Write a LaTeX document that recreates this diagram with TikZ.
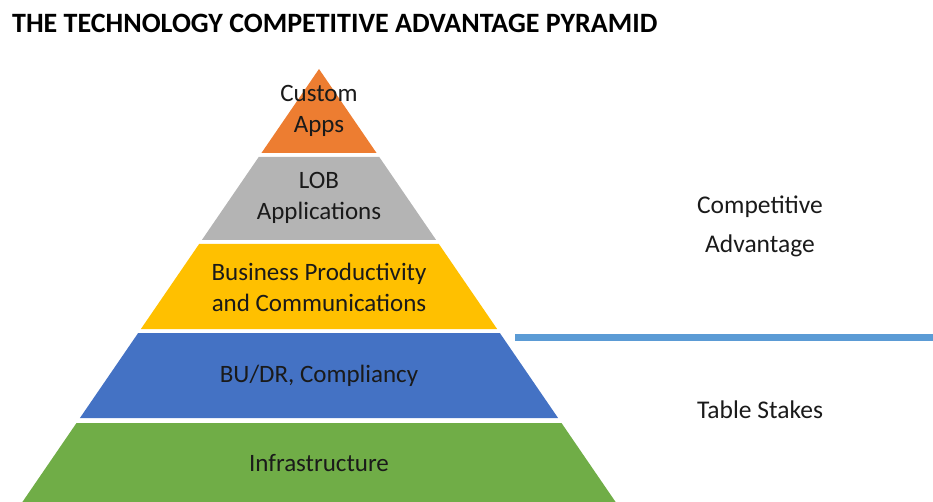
\documentclass[tikz,border=0pt]{standalone}
\usepackage{fontspec}
\setmainfont{Carlito}
\usetikzlibrary{positioning}

\definecolor{apporange}{HTML}{ED7D31}
\definecolor{lobgray}{HTML}{B4B4B4}
\definecolor{prodyellow}{HTML}{FFC000}
\definecolor{bublue}{HTML}{4472C4}
\definecolor{infragreen}{HTML}{70AD47}
\definecolor{splitblue}{HTML}{5B9BD5}
\definecolor{labeltext}{HTML}{1A1A1A}

\begin{document}
\begin{tikzpicture}[x=1pt, y=-1pt]
    % Styles
    \tikzset{
        level_label/.style={font=\fontsize{25}{31}\selectfont, text=labeltext, align=center, inner sep=0pt},
        side_label/.style={font=\fontsize{25.5}{39}\selectfont, text=labeltext, align=center, inner sep=0pt},
        title_text/.style={font=\bfseries\fontsize{28}{32}\selectfont, text=black, anchor=west, inner sep=0pt},
        divider/.style={draw=splitblue, line width=7pt}
    }

    \useasboundingbox (0,0) rectangle (933,502);

    % --- Title ---
    \node[title_text] (title) at (12,23) {THE TECHNOLOGY COMPETITIVE ADVANTAGE PYRAMID};

    % --- Pyramid levels (apex at 319/69) ---
    \foreach \ytop/\ybot/\col in {69/153/apporange, 157/240/lobgray, 244/329/prodyellow, 333/418/bublue, 423/502/infragreen} {
        \pgfmathsetmacro{\wtop}{0.685*(\ytop-69)}
        \pgfmathsetmacro{\wbot}{0.685*(\ybot-69)}
        \fill[\col] ({319-\wtop},\ytop) -- ({319+\wtop},\ytop) -- ({319+\wbot},\ybot) -- ({319-\wbot},\ybot) -- cycle;
    }

    % --- Level labels ---
    \node[level_label] (custom) at (319,111) {Custom\\Apps};
    \node[level_label] (lob) at (319,198) {LOB\\Applications};
    \node[level_label] (productivity) at (319,287) {Business Productivity\\and Communications};
    \node[level_label] (compliancy) at (319,376) {BU/DR, Compliancy};
    \node[level_label] (infra) at (319,463) {Infrastructure};

    % --- Side labels ---
    \node[side_label] (advantage) at (760,226) {Competitive\\Advantage};
    \node[side_label] (stakes) at (760,410) {Table Stakes};

    % Split between the two groups
    \coordinate (split_left) at (515,337.5);
    \coordinate (split_right) at (933,337.5);
    \draw[divider] (split_left) -- (split_right);

\end{tikzpicture}
\end{document}
